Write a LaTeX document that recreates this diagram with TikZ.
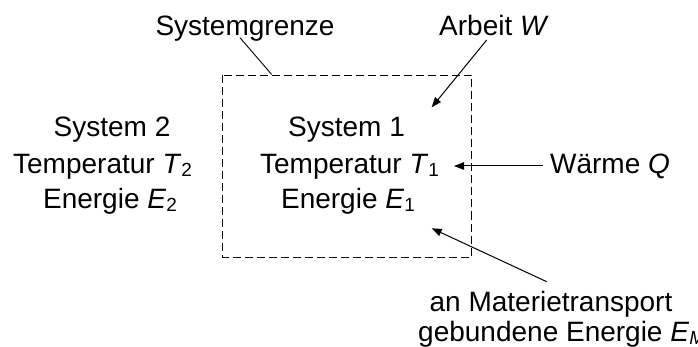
\documentclass[tikz,border=0pt]{standalone}
\usepackage{fontspec}
\setmainfont{Liberation Sans}
\usetikzlibrary{arrows.meta}
% lowered, smaller index after an italic symbol
\newcommand\lowidx[1]{\raisebox{-3pt}{\fontsize{19}{19}\selectfont #1}}
\begin{document}
\begin{tikzpicture}[x=1pt,y=-1pt,
  lbl/.style={inner sep=0pt,anchor=base,font=\fontsize{28}{32}\selectfont},
  boundary/.style={line width=1pt,dash pattern=on 8pt off 4pt},
  flow/.style={line width=1pt,-{Triangle[length=10pt,width=7.5pt]}},
  pointer/.style={line width=0.9pt}]
\useasboundingbox (0,0) rectangle (698,347);
\clip (0,0) rectangle (698,347);

% system boundary
\draw[boundary] (222.5,75.5) rectangle (471.5,257);

% system 2 (outside)
\node[lbl] (s2)  at (112,137) {System 2};
\node[lbl] (t2)  at (102.5,174) {Temperatur \textit{T}\lowidx{2}};
\node[lbl] (e2)  at (110,209) {Energie \textit{E}\lowidx{2}};

% system 1 (inside)
\node[lbl] (s1)  at (346.5,137) {System 1};
\node[lbl] (t1)  at (349.5,174) {Temperatur \textit{T}\lowidx{1}};
\node[lbl] (e1)  at (348,209) {Energie \textit{E}\lowidx{1}};

% labels around the boundary
\node[lbl] (sg)  at (245,36) {Systemgrenze};
\node[lbl] (w)   at (494,36) {Arbeit \textit{W}};
\node[lbl] (q)   at (610,174) {Wärme \textit{Q}};
\node[lbl] (m1)  at (551,311) {an Materietransport};
\node[lbl,anchor=base west] (m2) at (418,341) {gebundene Energie \textit{E}\lowidx{\textit{M}}};

% anchor points of the connectors
\coordinate (sgA) at (240,37.7);
\coordinate (sgB) at (271.7,74.5);
\coordinate (wA)  at (486.7,40);
\coordinate (wB)  at (431.7,107.3);
\coordinate (qA)  at (543,166);
\coordinate (qB)  at (454,166);
\coordinate (mA)  at (546.7,281.7);
\coordinate (mB)  at (431.7,228.3);

\draw[pointer] (sgA) -- (sgB);
\draw[flow] (wA) -- (wB);
\draw[flow] (qA) -- (qB);
\draw[flow] (mA) -- (mB);
\end{tikzpicture}
\end{document}
